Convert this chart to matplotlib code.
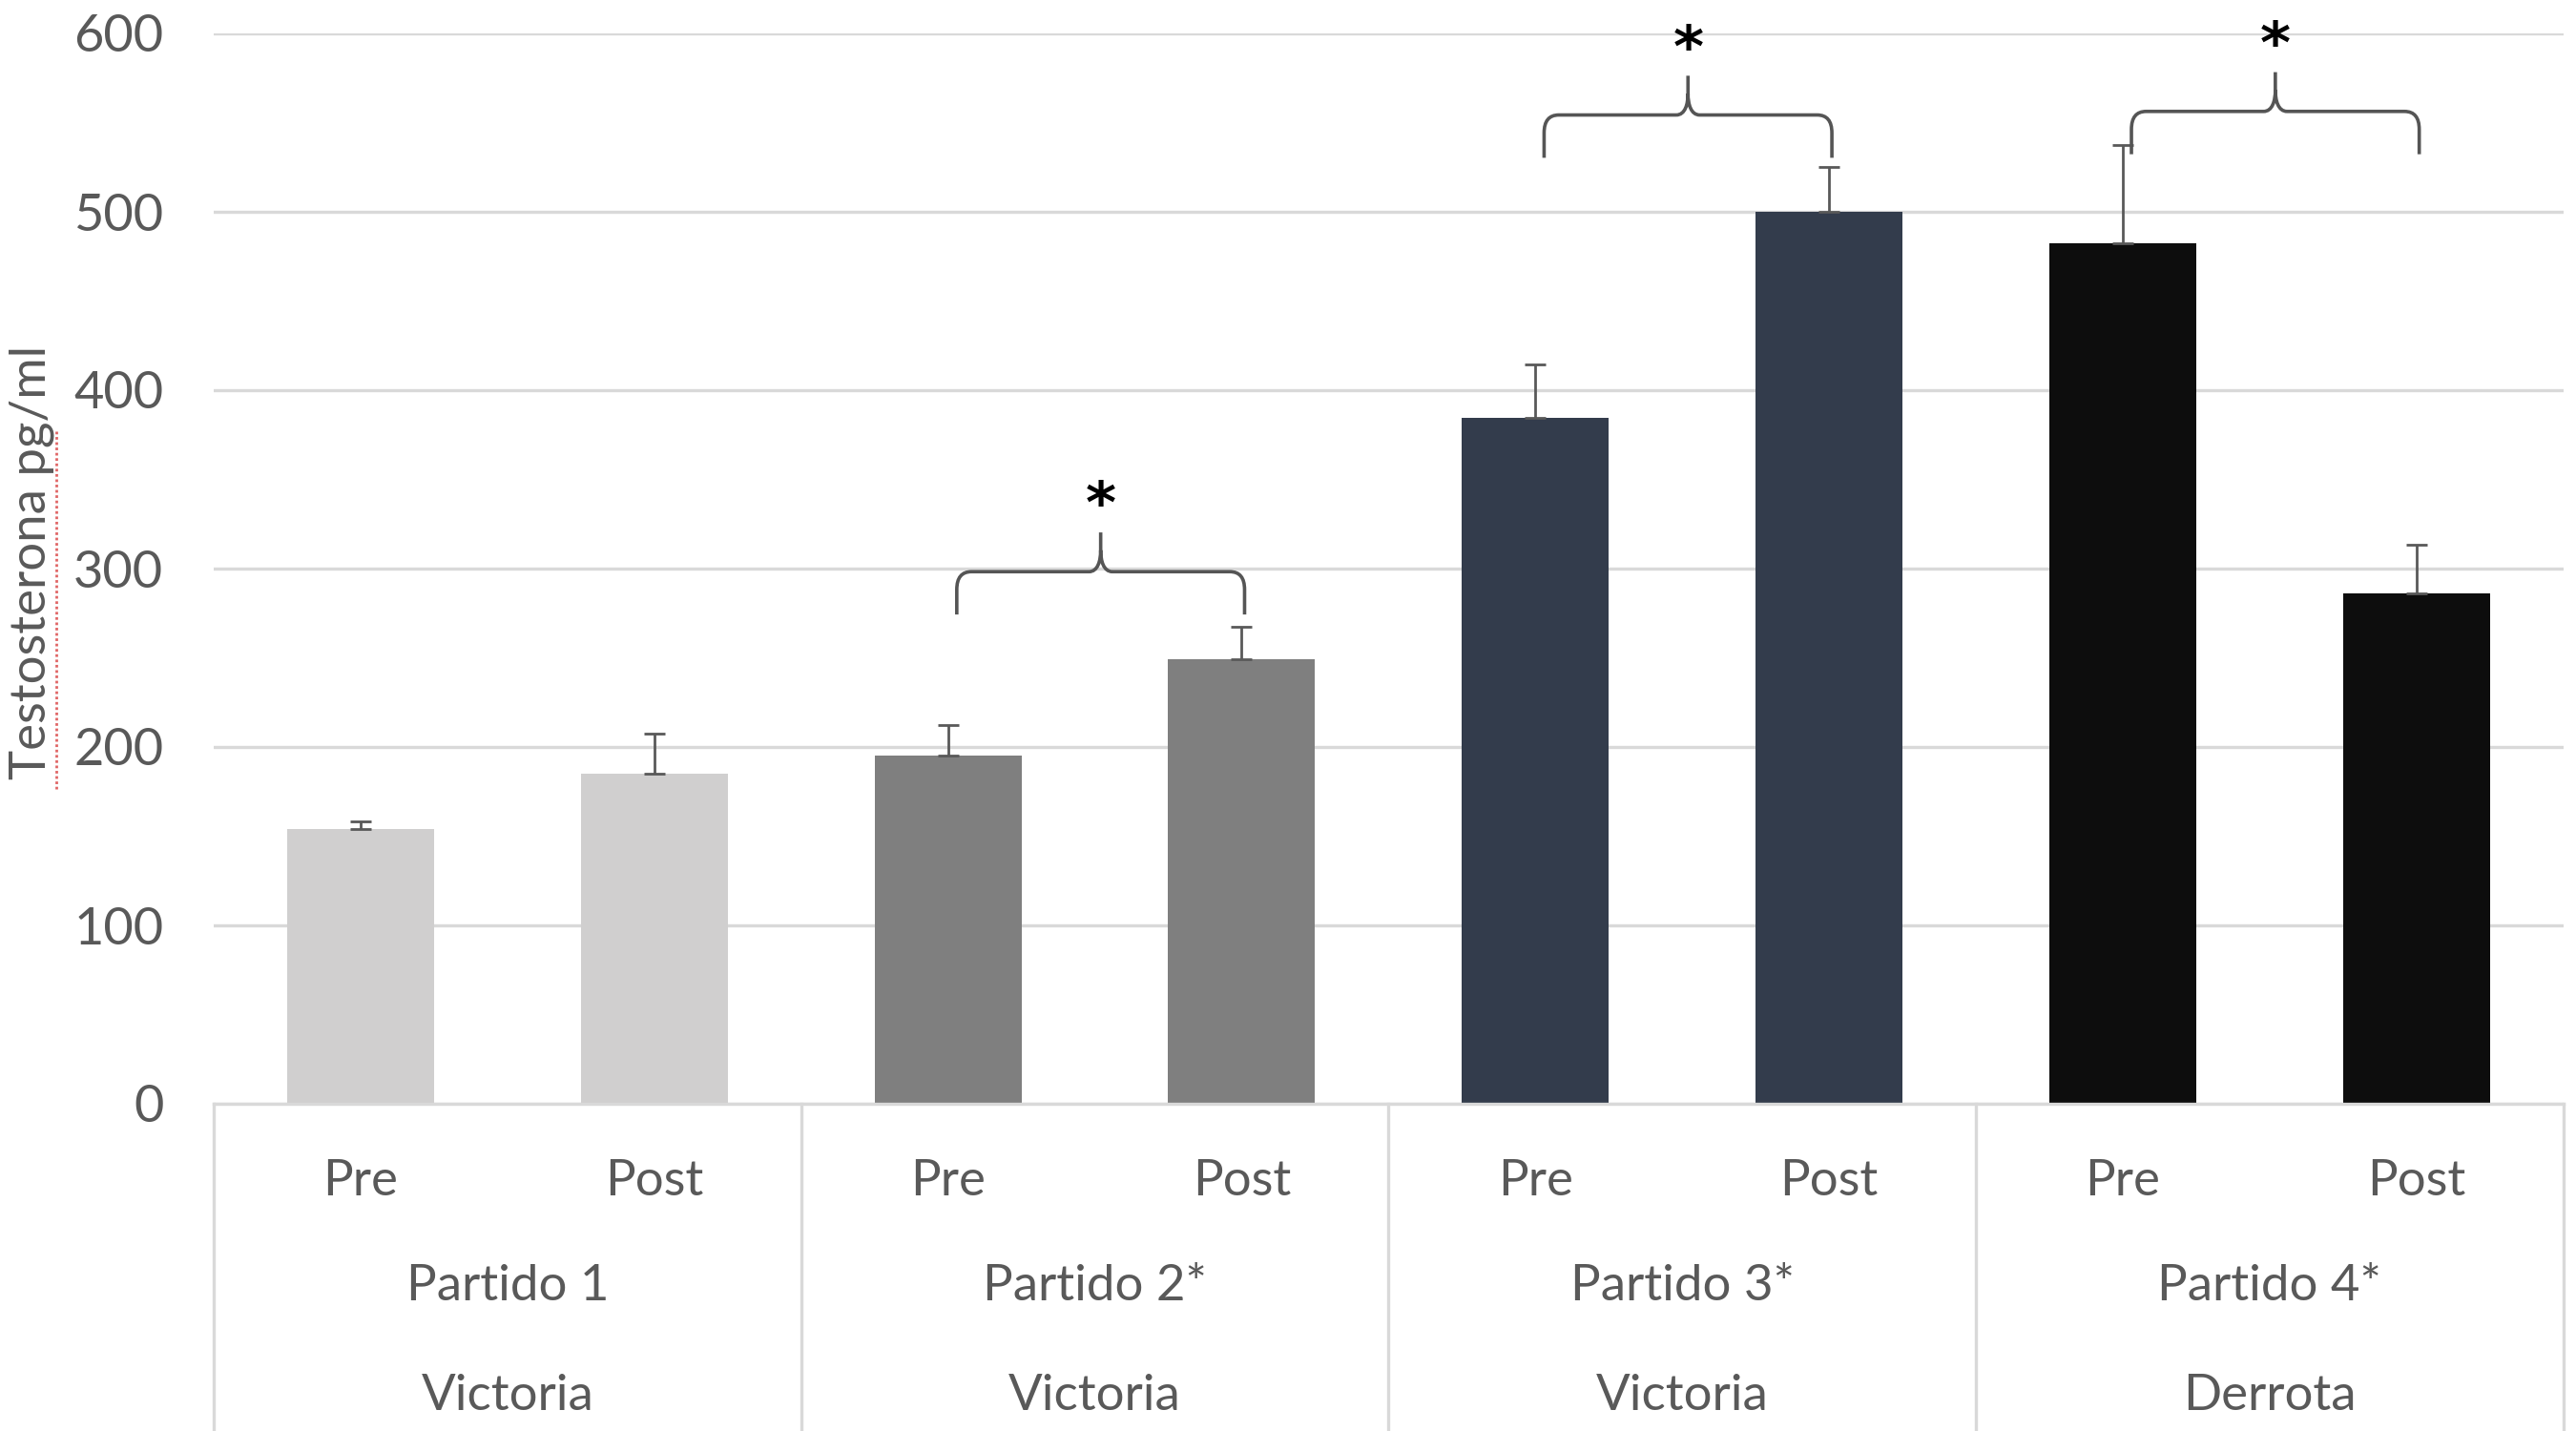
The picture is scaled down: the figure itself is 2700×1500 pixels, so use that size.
import matplotlib.pyplot as plt
from matplotlib.path import Path
from matplotlib.patches import PathPatch
import numpy as np

plt.rcParams['font.family'] = ['Lato', 'DejaVu Sans']

# datos
momentos = ["Pre", "Post", "Pre", "Post", "Pre", "Post", "Pre", "Post"]
partidos = ["Partido 1", "Partido 2*", "Partido 3*", "Partido 4*"]
resultados = ["Victoria", "Victoria", "Victoria", "Derrota"]
testosterona = [154, 185, 195, 249, 384, 500, 482, 286]
error = [4, 22, 17, 18, 30, 25, 55, 27]
colores = ["#D0CFCF", "#D0CFCF", "#7F7F7F", "#7F7F7F",
           "#333C4C", "#333C4C", "#0D0D0D", "#0D0D0D"]
# llaves de significancia: (barra izq, barra der, altura)
llaves = [(2, 3, 298), (4, 5, 554), (6, 7, 556)]

fig = plt.figure(figsize=(13.5, 7.5), dpi=200)
ax = fig.add_axes([0.083, 0.229, 0.912, 0.748])

x = np.arange(len(testosterona))
ax.bar(x, testosterona, width=0.5, color=colores, zorder=2)
ax.errorbar(x, testosterona, yerr=[np.zeros(len(error)), error], fmt='none',
            ecolor='#595959', elinewidth=1, capsize=4, capthick=1, zorder=3)

ax.set_xlim(-0.5, 7.5)
ax.set_ylim(0, 600)
ax.set_yticks(np.arange(0, 601, 100))
ax.yaxis.grid(True, color='#D9D9D9', lw=1.2, zorder=0)
ax.tick_params(axis='y', length=0, pad=19, labelsize=19.5, labelcolor='#595959')
ax.set_xticks([])
for s in ['top', 'right', 'left']:
    ax.spines[s].set_visible(False)
ax.spines['bottom'].set_color('#D9D9D9')
ax.spines['bottom'].set_linewidth(1.2)

ax.set_ylabel("Testosterona pg/ml", fontsize=19, color='#595959')
ax.yaxis.set_label_coords(-0.068, 0.505)
# subrayado del corrector ortografico
fig.add_artist(plt.Line2D([0.022, 0.022], [0.449, 0.70], color='#E06666', lw=1,
                          ls=(0, (1, 1))))

# tabla de etiquetas bajo el eje
tr = ax.get_xaxis_transform()
for b in np.arange(-0.5, 8, 2):
    ax.plot([b, b], [0, -0.32], transform=tr, color='#D9D9D9', lw=1.2, clip_on=False)
for i, m in enumerate(momentos):
    ax.text(i, -0.073, m, transform=tr, ha='center', va='center', fontsize=19, color='#595959')
for g in range(len(partidos)):
    ax.text(2 * g + 0.5, -0.171, partidos[g], transform=tr, ha='center', va='center',
            fontsize=19, color='#595959')
    ax.text(2 * g + 0.5, -0.274, resultados[g], transform=tr, ha='center', va='center',
            fontsize=19, color='#595959')


def llave(a, b, y):
    x0, x1 = a + 0.03, b + 0.01
    xm = (x0 + x1) / 2
    dy = 24
    rx, ry = 0.05, 10
    verts = [(x0, y - dy), (x0, y - ry), (x0, y), (x0 + rx, y),
             (xm - 0.04, y), (xm - 0.01, y), (xm, y + 6), (xm, y + 12), (xm, y + 22),
             (xm, y + 12), (xm, y + 6), (xm + 0.01, y), (xm + 0.04, y),
             (x1 - rx, y), (x1, y), (x1, y - ry), (x1, y - dy)]
    codes = [Path.MOVETO, Path.LINETO, Path.CURVE3, Path.CURVE3,
             Path.LINETO, Path.CURVE4, Path.CURVE4, Path.CURVE4, Path.LINETO,
             Path.MOVETO, Path.CURVE4, Path.CURVE4, Path.CURVE4,
             Path.LINETO, Path.CURVE3, Path.CURVE3, Path.LINETO]
    ax.add_patch(PathPatch(Path(verts, codes), fill=False, edgecolor='#555555', lw=1.3,
                           clip_on=False, zorder=4))
    ax.text(xm, y + 36, "*", ha='center', va='center', fontsize=22, fontweight='bold',
            family='DejaVu Sans', color='black')


for a, b, h in llaves:
    llave(a, b, h)

fig.savefig("out.png")
